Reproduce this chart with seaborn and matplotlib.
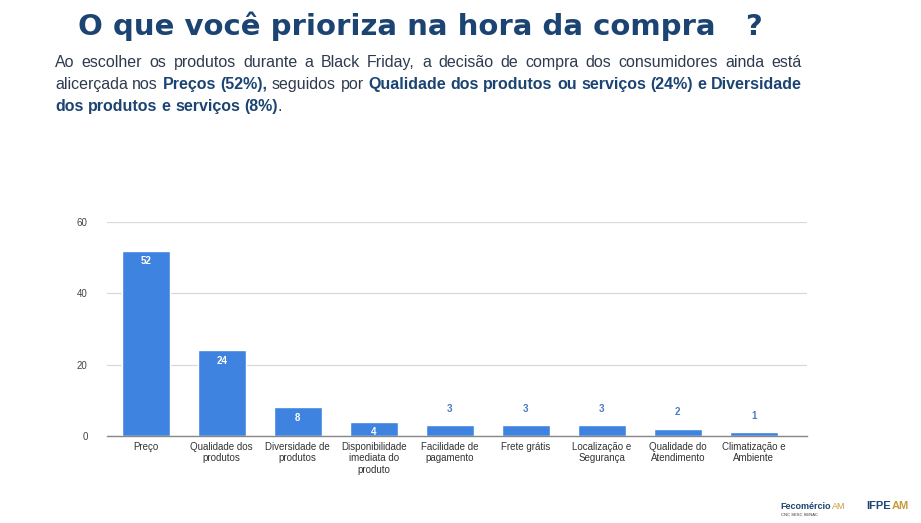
import numpy as np
import pandas as pd
import matplotlib
matplotlib.use("Agg")
import matplotlib.pyplot as plt
import seaborn as sns

# data
categorias = ["Preço", "Qualidade dos\nprodutos", "Diversidade de\nprodutos",
              "Disponibilidade\nimediata do\nproduto", "Facilidade de\npagamento",
              "Frete grátis", "Localização e\nSegurança", "Qualidade do\nAtendimento",
              "Climatização e\nAmbiente"]
valores = [52, 24, 8, 4, 3, 3, 3, 2, 1]
y_ticks = [0, 20, 40, 60]

titulo = "O que você prioriza na hora da compra   ?"
linhas = [
    [("Ao escolher os produtos durante a Black Friday, a decisão de compra dos consumidores ainda está", False)],
    [("alicerçada nos ", False), ("Preços (52%),", True), (" seguidos por ", False),
     ("Qualidade dos produtos ou serviços (24%) e Diversidade", True)],
    [("dos produtos e serviços (8%)", True), (".", False)],
]

BAR = "#3f83e0"
NAVY = "#1c4473"
TXT = "#2e3b4e"
W, H = 921, 523

sns.set_theme(style="white")
plt.rcParams["font.family"] = ["Liberation Sans", "DejaVu Sans"]

df = pd.DataFrame({"cat": categorias, "val": valores})
fig = plt.figure(figsize=(W / 100, H / 100), dpi=100)
ax = fig.add_axes([107 / W, 1 - 436 / H, 700 / W, 214 / H])
sns.barplot(data=df, x="cat", y="val", color=BAR, saturation=1, width=0.63, ax=ax)

ax.set_ylim(0, 60)
ax.set_xlim(-0.51, 8.7)
ax.set_yticks(y_ticks)
ax.set_yticklabels([str(t) for t in y_ticks], fontsize=7, color="#444444")
ax.tick_params(axis="x", labelsize=7, colors="#333333", length=0, pad=4)
ax.tick_params(axis="y", length=0, pad=14)
ax.set_xlabel("")
ax.set_ylabel("")
ax.yaxis.grid(True, color="#d9d9d9", linewidth=0.9)
ax.set_axisbelow(True)
for s in ["top", "right", "left"]:
    ax.spines[s].set_visible(False)
ax.spines["bottom"].set_color("#888888")
ax.spines["bottom"].set_linewidth(1)

for i, v in enumerate(valores):
    if v >= 4:
        ax.text(i, v - 1.5, str(v), ha="center", va="top", fontsize=7,
                fontweight="bold", color="white")
    else:
        ax.text(i, v + 3.2, str(v), ha="center", va="bottom", fontsize=7,
                fontweight="bold", color="#4a7cc0")

# title
fig.text(78 / W, 1 - 26 / H, titulo, ha="left", va="center", fontsize=21,
         fontweight="bold", color=NAVY, family=["DejaVu Sans"])

# justified paragraph, word by word on a common baseline
fig.canvas.draw()
renderer = fig.canvas.get_renderer()
x0, x1 = 55, 802
ys = [67, 89, 111]
fs = 11.5
for li, (linha, y) in enumerate(zip(linhas, ys)):
    palavras = []
    fim_espaco = True
    for seg, bold in linha:
        partes = seg.split(" ")
        for k, p in enumerate(partes):
            if p == "":
                continue
            colar = (k == 0 and not fim_espaco and len(palavras) > 0)
            palavras.append((p, bold, colar))
        fim_espaco = seg.endswith(" ")
    objs = []
    for p, bold, colar in palavras:
        t = fig.text(0, 1 - y / H, p, ha="left", va="baseline", fontsize=fs,
                     fontweight="bold" if bold else "normal",
                     color=NAVY if bold else TXT)
        objs.append((t, t.get_window_extent(renderer).width, colar))
    total = sum(w for _, w, _ in objs)
    ngaps = sum(1 for _, _, c in objs[1:] if not c)
    if li < len(linhas) - 1 and ngaps > 0:
        gap = (x1 - x0 - total) / ngaps
    else:
        gap = fs * 100 / 72 * 0.28
    x = x0
    for j, (t, w, colar) in enumerate(objs):
        if j > 0 and not colar:
            x += gap
        t.set_x(x / W)
        x += w


# footer logos as text, placed one after another
def logo(x, y, partes):
    for txt, cor, tam, peso in partes:
        t = fig.text(x / W, 1 - y / H, txt, fontsize=tam, fontweight=peso,
                     color=cor, ha="left", va="baseline")
        x += t.get_window_extent(renderer).width + 1


logo(780, 509, [("Fecomércio", NAVY, 6.5, "bold"), ("AM", "#c79a3a", 6.5, "normal")])
fig.text(781 / W, 1 - 515 / H, "CNC SESC SENAC", fontsize=3, color="#333333",
         ha="left", va="center")
logo(866, 509, [("IFPE", NAVY, 8, "bold"), ("AM", "#c79a3a", 8, "bold")])

fig.savefig("out.png", dpi=100)
